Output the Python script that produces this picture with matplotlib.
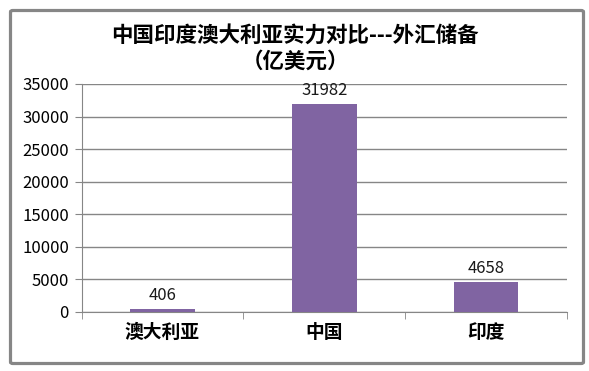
import matplotlib
matplotlib.use("Agg")
import matplotlib.pyplot as plt
import matplotlib.patches as mpatches
import numpy as np

plt.rcParams['font.family'] = ['Noto Sans CJK SC', 'DejaVu Sans']

# data
countries = ["澳大利亚", "中国", "印度"]
reserves = [406, 31982, 4658]
yticks = [0, 5000, 10000, 15000, 20000, 25000, 30000, 35000]
title = "中国印度澳大利亚实力对比---外汇储备\n（亿美元）"

BAR_COLOR = "#8064A2"
GRID_COLOR = "#868686"

W, H = 589, 371
fig = plt.figure(figsize=(W / 100, H / 100), dpi=100)

# axes placed in pixel terms of the reference
left, right, top, bottom = 81.5, 567, 84, 312
ax = fig.add_axes([left / W, 1 - bottom / H, (right - left) / W, (bottom - top) / H])

x = np.arange(len(countries))
bars = ax.bar(x, reserves, width=0.4, color=BAR_COLOR, zorder=3)

for xi, v in zip(x, reserves):
    ax.annotate(str(v), xy=(xi, v), xytext=(0, 3.5), textcoords="offset points",
                ha="center", va="bottom", fontsize=12, color="#1a1a1a")

ax.set_xlim(-0.5, len(countries) - 0.5)
ax.set_ylim(0, 35000)
ax.set_yticks(yticks)
ax.set_yticklabels([str(t) for t in yticks], fontsize=12)
ax.set_xticks(x)
ax.set_xticklabels(countries, fontsize=13.5, fontweight="bold")

# category boundary ticks
ax.set_xticks(np.arange(-0.5, len(countries)), minor=True)
ax.tick_params(axis="x", which="major", length=0, pad=8)
ax.tick_params(axis="x", which="minor", length=5, color=GRID_COLOR, direction="out")
ax.tick_params(axis="y", length=5, color=GRID_COLOR, pad=4)

ax.grid(axis="y", color=GRID_COLOR, linewidth=1, zorder=0)
for s in ["top", "right"]:
    ax.spines[s].set_visible(False)
ax.spines["left"].set_color(GRID_COLOR)
ax.spines["bottom"].set_color(GRID_COLOR)

fig.text(295 / W, 1 - 48 / H, title, ha="center", va="center", fontsize=15.5,
         fontweight="bold", linespacing=1.3)

# outer chart frame
frame = mpatches.FancyBboxPatch((10.5 / W, 1 - 363.5 / H), 573 / W, 353 / H,
                                boxstyle="round,pad=0,rounding_size=0.004",
                                transform=fig.transFigure, fill=False,
                                edgecolor=GRID_COLOR, linewidth=2.3)
fig.patches.append(frame)

fig.savefig("out.png", dpi=100)
